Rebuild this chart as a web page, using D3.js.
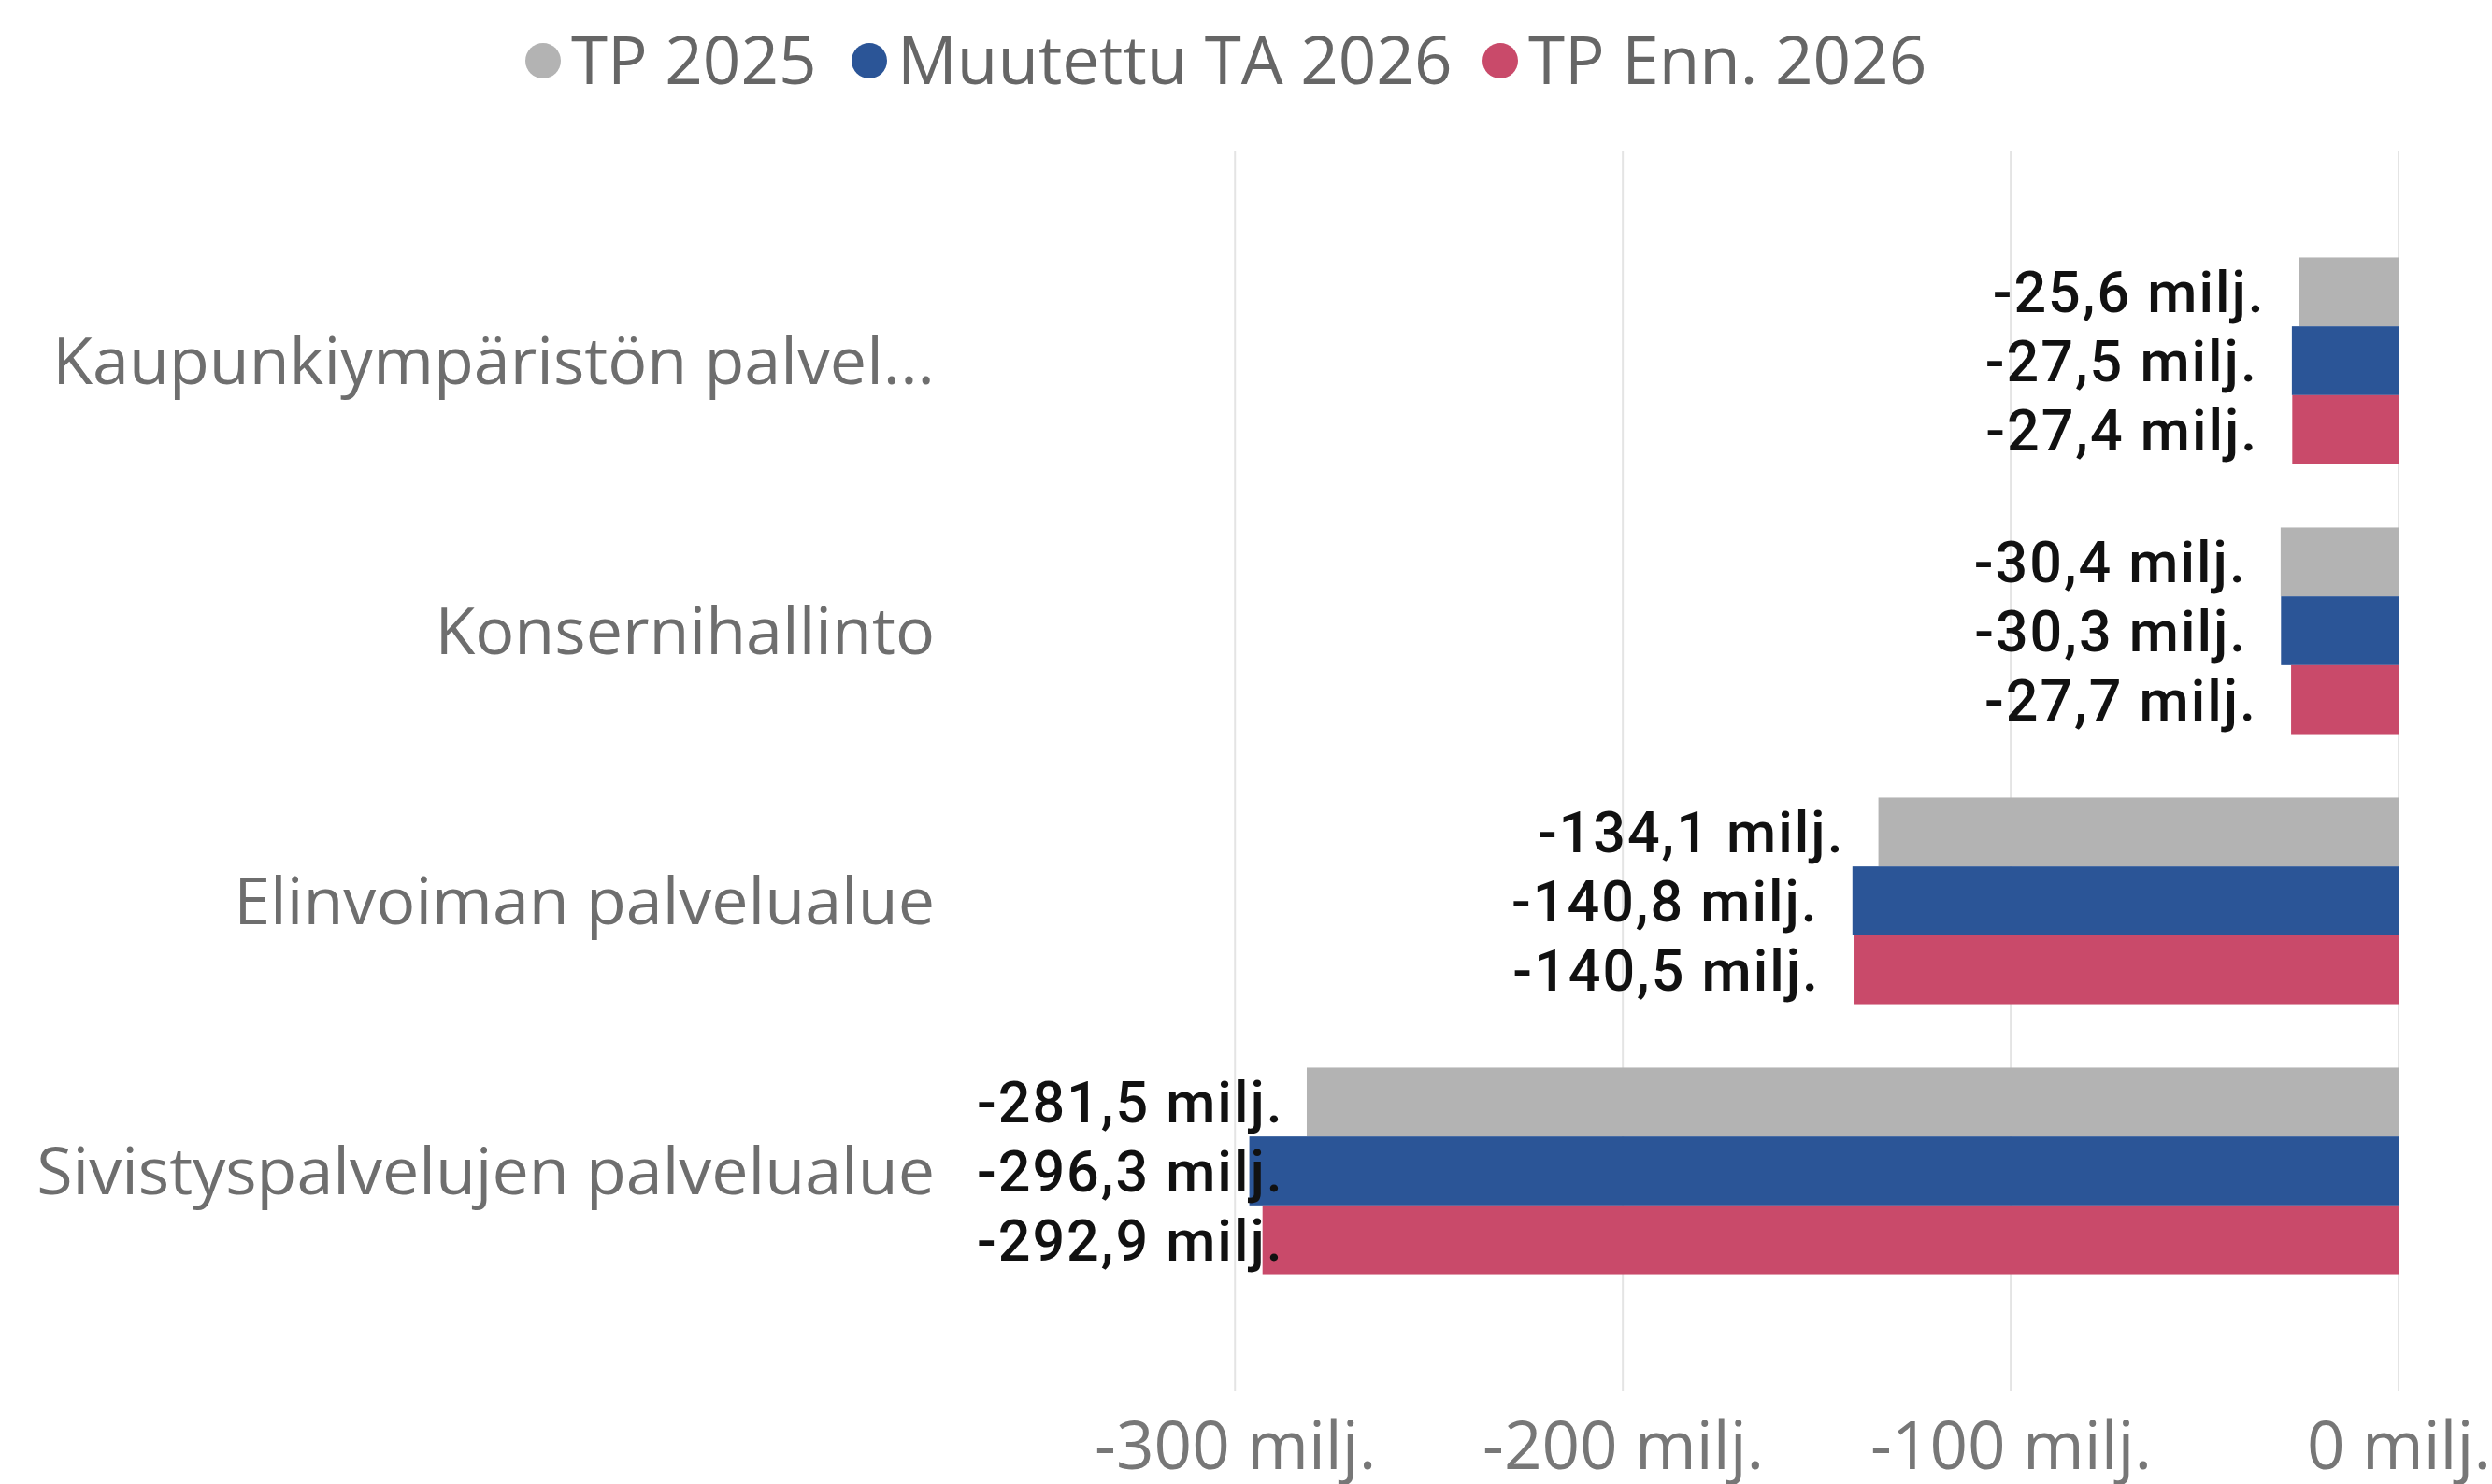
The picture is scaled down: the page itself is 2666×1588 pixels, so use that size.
<!DOCTYPE html>
<html><head><meta charset="utf-8">
<script src="https://cdn.jsdelivr.net/npm/d3@7"></script>
<style>body{margin:0;background:#fff}</style>
</head><body><svg id="c" width="2666" height="1588"></svg>
<script>
const categories = ["Kaupunkiympäristön palvel...", "Konsernihallinto", "Elinvoiman palvelualue", "Sivistyspalvelujen palvelualue"];
const seriesNames = ["TP 2025", "Muutettu TA 2026", "TP Enn. 2026"];
const seriesColors = ["#b3b3b3", "#2b5597", "#c94a6a"];
const tp2025 = [-25.6, -30.4, -134.1, -281.5];
const muutettuTA2026 = [-27.5, -30.3, -140.8, -296.3];
const tpEnn2026 = [-27.4, -27.7, -140.5, -292.9];
const tickValues = [-300, -200, -100, 0];

const seriesValues = [tp2025, muutettuTA2026, tpEnn2026];
const data = categories.map((c, i) => ({cat: c, vals: seriesValues.map((s, j) => ({key: seriesNames[j], v: s[i], j}))}));

const svg = d3.select("#c");
const plotLeft = 1037, plotRight = 2566, plotTop = 162, plotBottom = 1488;
const x = d3.scaleLinear().domain([-368.5, 0]).range([plotLeft, plotRight]);
const y = d3.scaleBand().domain(categories).range([241.5, 1397.5]).paddingInner(0.235).paddingOuter(0.1175);
const ySub = d3.scaleBand().domain(seriesNames).range([0, y.bandwidth()]);
const color = d3.scaleOrdinal().domain(seriesNames).range(seriesColors);
const sansFont = "'Open Sans', 'Noto Sans', sans-serif";

// gridlines
svg.append("g").selectAll("line").data(tickValues).join("line")
  .attr("x1", d => x(d)).attr("x2", d => x(d))
  .attr("y1", plotTop).attr("y2", plotBottom)
  .attr("stroke", "#e4e4e4").attr("stroke-width", 2);

// x axis labels
const xAxis = d3.axisBottom(x).tickValues(tickValues).tickFormat(d => String(d) + " milj.").tickSize(0).tickPadding(0);
const gx = svg.append("g").attr("transform", `translate(0,${plotBottom})`).call(xAxis);
gx.select(".domain").remove();
gx.selectAll("text").attr("font-family", sansFont).attr("font-size", 71)
  .attr("fill", "#777").attr("dy", "1.1em").attr("y", 6);

// y axis labels
const yAxis = d3.axisLeft(y).tickSize(0).tickPadding(0);
const gy = svg.append("g").attr("transform", `translate(1000,0)`).call(yAxis);
gy.select(".domain").remove();
gy.selectAll("text").attr("font-family", sansFont).attr("font-size", 70)
  .attr("fill", "#6e6e6e").attr("dy", "0.35em");

// bars
const groups = svg.append("g").selectAll("g").data(data).join("g")
  .attr("transform", d => `translate(0,${y(d.cat)})`);
groups.selectAll("rect").data(d => d.vals).join("rect")
  .attr("x", d => x(d.v)).attr("width", d => x(0) - x(d.v))
  .attr("y", d => ySub(d.key)).attr("height", ySub.bandwidth())
  .attr("fill", d => color(d.key));

// value labels
const fmt = v => (v < 0 ? "-" : "") + Math.abs(v).toFixed(1).replace(".", ",") + " milj.";
groups.selectAll("text").data(d => d.vals).join("text")
  .text(d => fmt(d.v))
  .attr("font-family", "Roboto, sans-serif")
  .attr("font-weight", 500).attr("font-size", 61).attr("letter-spacing", 2).attr("fill", "#111")
  .attr("y", d => ySub(d.key) + ySub.bandwidth() / 2).attr("dy", "0.36em")
  .each(function(d) {
    const w = this.getComputedTextLength();
    let xs = x(d.v) - 36 - w;
    if (xs < plotLeft + 8) xs = plotLeft + 8;
    d3.select(this).attr("x", xs);
  });

// legend
const legendX = [581, 930, 1605];
const lg = svg.append("g").selectAll("g").data(seriesNames).join("g")
  .attr("transform", (d, i) => `translate(${legendX[i]},65)`);
lg.append("circle").attr("r", 19).attr("fill", d => color(d));
lg.append("text").text(d => d).attr("x", 30).attr("dy", "0.35em")
  .attr("font-family", sansFont).attr("font-size", 71).attr("fill", "#666");
</script></body></html>
